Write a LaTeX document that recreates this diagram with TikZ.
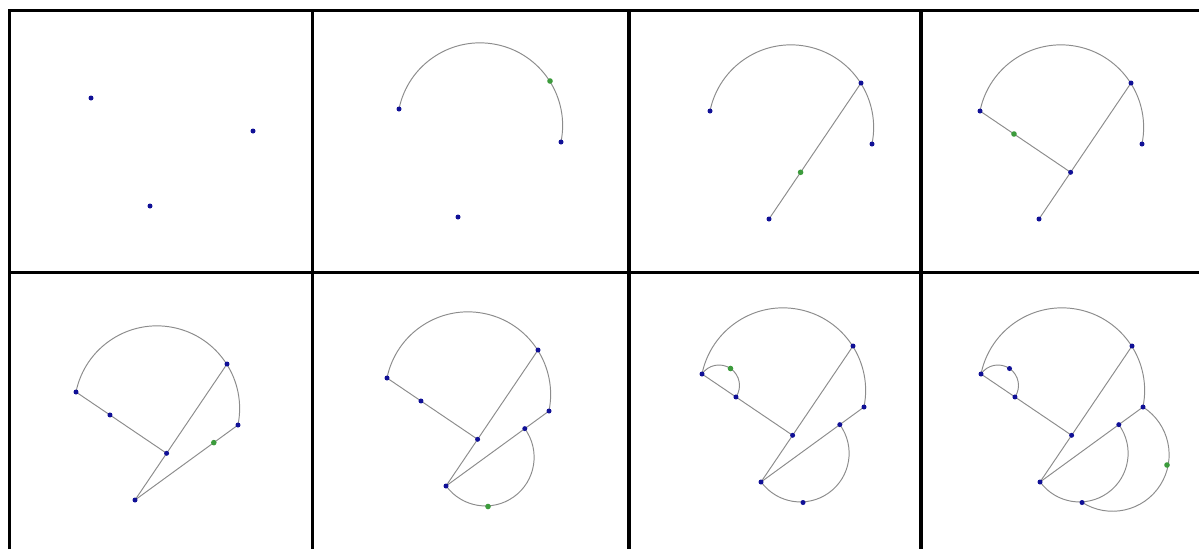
\documentclass[tikz,border=0pt]{standalone}
\usetikzlibrary{calc}

\definecolor{dotblue}{RGB}{16,16,150}
\definecolor{dotgreen}{RGB}{60,155,60}
\definecolor{edgegray}{RGB}{140,140,140}

\tikzset{
    frame/.style={line width=0.075cm, black},
    edge/.style={edgegray, line width=0.55pt},
    bdot/.style={fill=dotblue},
    gdot/.style={fill=dotgreen}
}

% points of one construction, relative to A
\newcommand{\setpts}{%
    \coordinate (A) at (0,0);
    \coordinate (B) at (162,-33);
    \coordinate (C) at (59,-108);
    \coordinate (P) at (151,28);
    \coordinate (Q) at ($(C)!(A)!(P)$);
    \coordinate (R) at ($(A)!0.375!(Q)$);
    \coordinate (S) at ($(C)!0.765!(B)$);
    \coordinate (T) at (101,-128.5);
    \coordinate (U) at (28.5,5.5);
    \coordinate (V) at (186,-91);
}

% half circle from #1 to #2, turning clockwise
\newcommand{\halfcirc}[2]{%
    \draw[edge] let \p1=($(#1)-(#2)$),
        \n1={atan2(\y1,\x1)}, \n2={veclen(\x1,\y1)/2} in
        (#1) arc[start angle=\n1, delta angle=-180, radius=\n2];
}

\newcommand{\bluedots}[1]{\foreach \q in {#1} {\fill[bdot] (\q) circle (2.5);}}
\newcommand{\greendot}[1]{\fill[gdot] (#1) circle (2.8);}

\begin{document}
\begin{tikzpicture}[x=0.02cm, y=0.02cm]

\useasboundingbox (0,0) rectangle (1199,-549);

% Grid of panels
\draw[frame] (9.5,-549) -- (9.5,-10.5) -- (1199,-10.5);
\draw[frame] (9.5,-272.5) -- (1199,-272.5);
\foreach \gx in {312.5,629,921}
    \draw[frame] (\gx,-10.5) -- (\gx,-549);

% Panel 1
\begin{scope}[shift={(91,-98)}]
    \setpts
    \bluedots{A,B,C}
\end{scope}

% Panel 2
\begin{scope}[shift={(399,-109)}]
    \setpts
    \halfcirc{A}{B}
    \bluedots{A,B,C}
    \greendot{P}
\end{scope}

% Panel 3
\begin{scope}[shift={(710,-111)}]
    \setpts
    \halfcirc{A}{B}
    \draw[edge] (C) -- (P);
    \bluedots{A,B,C,P}
    \greendot{Q}
\end{scope}

% Panel 4
\begin{scope}[shift={(980,-111)}]
    \setpts
    \halfcirc{A}{B}
    \draw[edge] (C) -- (P);
    \draw[edge] (A) -- (Q);
    \bluedots{A,B,C,P,Q}
    \greendot{R}
\end{scope}

% Panel 5
\begin{scope}[shift={(76,-392)}]
    \setpts
    \halfcirc{A}{B}
    \draw[edge] (C) -- (P);
    \draw[edge] (A) -- (Q);
    \draw[edge] (C) -- (B);
    \bluedots{A,B,C,P,Q,R}
    \greendot{S}
\end{scope}

% Panel 6
\begin{scope}[shift={(387,-378)}]
    \setpts
    \halfcirc{A}{B}
    \halfcirc{S}{C}
    \draw[edge] (C) -- (P);
    \draw[edge] (A) -- (Q);
    \draw[edge] (C) -- (B);
    \bluedots{A,B,C,P,Q,R,S}
    \greendot{T}
\end{scope}

% Panel 7
\begin{scope}[shift={(702,-374)}]
    \setpts
    \halfcirc{A}{B}
    \halfcirc{S}{C}
    \halfcirc{A}{R}
    \draw[edge] (C) -- (P);
    \draw[edge] (A) -- (Q);
    \draw[edge] (C) -- (B);
    \bluedots{A,B,C,P,Q,R,S,T}
    \greendot{U}
\end{scope}

% Panel 8
\begin{scope}[shift={(981,-374)}]
    \setpts
    \halfcirc{A}{B}
    \halfcirc{S}{C}
    \halfcirc{A}{R}
    \halfcirc{B}{T}
    \draw[edge] (C) -- (P);
    \draw[edge] (A) -- (Q);
    \draw[edge] (C) -- (B);
    \bluedots{A,B,C,P,Q,R,S,T,U}
    \greendot{V}
\end{scope}

\end{tikzpicture}
\end{document}
